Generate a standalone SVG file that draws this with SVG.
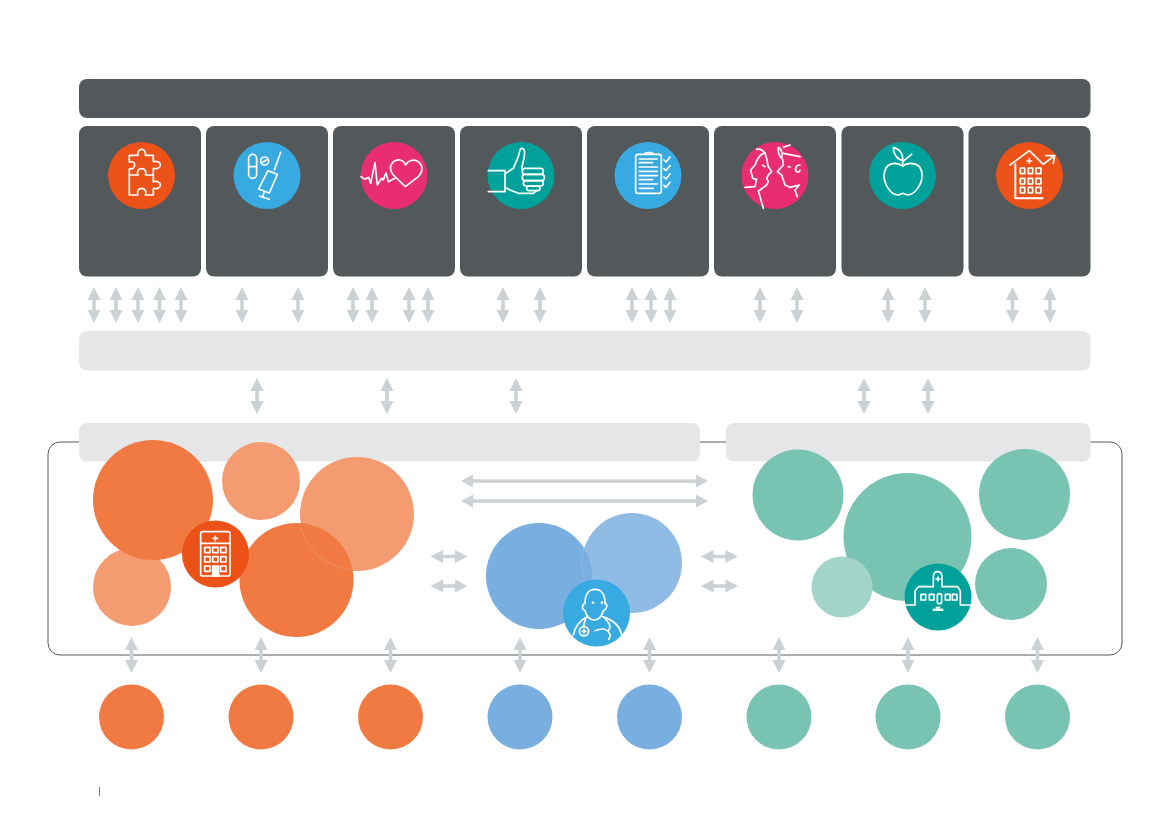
<svg xmlns="http://www.w3.org/2000/svg" width="1169" height="827" viewBox="0 0 1169 827">
<style>
.dark{fill:#53585a}
.band{fill:#e5e6e8}
.arrow{fill:#ccd1d5}
.o{fill:#f17a43}
.ol{fill:#f49b72}
.b{fill:#79aee0}
.bl{fill:#8fbbe5}
.g{fill:#78c3b2}
.gl{fill:#a3d4c8}
.co{fill:#ec5118}
.cb{fill:#38aae2}
.cp{fill:#e82d70}
.ct{fill:#00a19a}
.i{fill:none;stroke:#fff;stroke-width:5;stroke-linejoin:round;stroke-linecap:round}
.f{fill:#fff}
.seam{fill:none;stroke-width:1}
</style>
<defs>
<path id="v" d="M0-18L6.500-5H1.800V5H6.500L0 18L-6.500 5H-1.800V-5H-6.500Z"/>
<path id="h" d="M-18.500 0L-6-6.500V-1.800H6V-6.500L18.500 0L6 6.500V1.800H-6V6.500Z"/>
</defs>
<rect width="1169" height="827" fill="#fff"/>
<rect id="frame" x="48" y="442" width="1074" height="213" rx="12" fill="none" stroke="#55595c" stroke-width="1"/>
<g id="top-bar"><rect class="dark" x="79" y="79" width="1011.500" height="39" rx="8"/></g>
<g id="band-mid"><rect class="band" x="79" y="331" width="1011.500" height="39.500" rx="8"/></g>
<g id="band-left"><rect class="band" x="79" y="423" width="621" height="38.500" rx="8"/></g>
<g id="band-right"><rect class="band" x="726" y="423" width="364.500" height="38.500" rx="8"/></g>

<g id="connectors" class="arrow">
<use href="#v" x="94" y="305"/><use href="#v" x="116" y="305"/><use href="#v" x="138" y="305"/><use href="#v" x="159.500" y="305"/><use href="#v" x="181" y="305"/>
<use href="#v" x="242" y="305"/><use href="#v" x="298" y="305"/>
<use href="#v" x="353" y="305"/><use href="#v" x="372" y="305"/><use href="#v" x="409" y="305"/><use href="#v" x="428" y="305"/>
<use href="#v" x="503" y="305"/><use href="#v" x="540" y="305"/>
<use href="#v" x="632" y="305"/><use href="#v" x="651" y="305"/><use href="#v" x="670" y="305"/>
<use href="#v" x="760" y="305"/><use href="#v" x="797" y="305"/>
<use href="#v" x="888" y="305"/><use href="#v" x="925" y="305"/>
<use href="#v" x="1012.500" y="305"/><use href="#v" x="1050" y="305"/>
<use href="#v" x="257" y="396"/><use href="#v" x="387" y="396"/><use href="#v" x="516" y="396"/><use href="#v" x="864" y="396"/><use href="#v" x="928" y="396"/>
<use href="#v" x="131.500" y="655"/><use href="#v" x="261" y="655"/><use href="#v" x="390.500" y="655"/><use href="#v" x="520" y="655"/><use href="#v" x="649.500" y="655"/><use href="#v" x="779" y="655"/><use href="#v" x="908" y="655"/><use href="#v" x="1037.500" y="655"/>
<use href="#h" x="449" y="556.500"/><use href="#h" x="449" y="586"/><use href="#h" x="719.500" y="556.500"/><use href="#h" x="719.500" y="586"/>
<path d="M461 481L473 474.500V479.200H696V474.500L708 481L696 487.500V482.800H473V487.500Z"/>
<path d="M461 501L473 494.500V499.200H696V494.500L708 501L696 507.500V502.800H473V507.500Z"/>
</g>

<g id="card-1"><rect class="dark" x="79" y="126" width="122" height="150.500" rx="8"/><circle class="co" cx="141.500" cy="175.500" r="33.500"/>
<g class="i" transform="translate(80 120) scale(.3333)"><path d="M148 106H174C172 96 176 88 185 88C194 88 198 96 196 106H220V125C230 122 241 126 241 135C241 144 230 148 220 145V165H196C200 155 196 146 185 146C174 146 170 155 174 165H148V146C158 148 164 144 164 135C164 126 158 124 148 126Z"/><path d="M148 165V225H174C170 214 174 205 185 205C196 205 200 214 196 225H220V205C230 208 241 204 241 195C241 186 230 182 220 185V165"/></g></g>

<g id="card-2"><rect class="dark" x="206" y="126" width="122" height="150.500" rx="8"/><circle class="cb" cx="267" cy="175.500" r="33.500"/>
<g class="i" transform="translate(80 120) scale(.3333)"><rect x="506" y="103" width="24" height="72" rx="12"/><path d="M506 140H530"/><circle cx="554" cy="123" r="12"/><path d="M547 127L561 119"/><path d="M602 97L583 150M564 152L592 163L568 219L536 207ZM553 214L548 232M538 228L568 238"/></g></g>

<g id="card-3"><rect class="dark" x="333" y="126" width="122" height="150.500" rx="8"/><circle class="cp" cx="394" cy="175.500" r="33.500"/>
<g class="i" transform="translate(80 120) scale(.3333)"><path d="M843 170L855 178L866 172L872 190L885 128L892 195L905 175L910 180L918 158L925 185L945 175"/><path d="M976 200L940 165C920 140 940 118 960 120C970 122 975 130 977 135C985 120 1000 118 1010 122C1030 132 1030 155 1015 170Z"/></g></g>

<g id="card-4"><rect class="dark" x="460" y="126" width="122" height="150.500" rx="8"/><circle class="ct" cx="521" cy="175.500" r="33.500"/>
<g class="i" transform="translate(485 140) scale(.3333)"><path d="M10 92H60V155H10"/><path d="M62 100L85 85L100 50L105 30C108 22 116 24 118 32C122 50 112 70 110 85"/><rect x="112" y="85" width="63" height="18" rx="8"/><rect x="112" y="103" width="66" height="19" rx="8"/><rect x="115" y="122" width="60" height="16" rx="8"/><rect x="125" y="138" width="40" height="14" rx="7"/><path d="M62 143L75 150L100 160H145L155 152"/></g></g>

<g id="card-5"><rect class="dark" x="587" y="126" width="122" height="150.500" rx="8"/><circle class="cb" cx="648" cy="175.500" r="33.500"/>
<g class="i" transform="translate(460 120) scale(.3333)"><rect x="527" y="103" width="77" height="117" rx="7"/><path d="M553 103C553 96 580 96 580 103"/><path d="M538 117H592M538 128H578M538 141H592M538 154H592M538 167H592M538 179H578M538 192H592M538 205H580"/><path d="M612 120L618 126L630 111M612 146L618 152L630 137M612 171L618 177L630 162M612 196L618 202L630 187"/></g></g>

<g id="card-6"><rect class="dark" x="714" y="126" width="122" height="150.500" rx="8"/><circle class="cp" cx="775" cy="175.500" r="33.500"/>
<g class="i" transform="translate(740 140) scale(.3333)"><path d="M50 28C65 25 75 35 80 55L84 78L95 95L85 105L80 115L85 125L80 135L60 150L55 152L70 205"/><path d="M75 38C60 42 50 60 45 75L32 90L38 115L50 118L45 140L15 142"/><path d="M68 76L75 80"/><path d="M115 22C112 32 118 50 125 55C128 40 125 28 115 22ZM130 22L150 15M130 40L180 50"/><path d="M128 58L130 75L112 95L125 105L130 120L135 135L150 142L178 135L165 150L172 170"/><path d="M180 75C165 75 163 92 172 96C176 97 180 94 180 90"/><path d="M145 80L150 81"/></g></g>

<g id="card-7"><rect class="dark" x="841.500" y="126" width="122" height="150.500" rx="8"/><circle class="ct" cx="902.500" cy="175.500" r="33.500"/>
<g class="i" transform="translate(830 120) scale(.3333)"><path d="M218 138C200 125 165 125 162 165C162 190 180 225 205 225L218 220L232 225C255 225 278 190 276 165C276 125 235 125 218 138Z"/><path d="M218 138V125L245 103"/><path d="M190 83C215 88 220 110 218 122C200 118 190 100 190 83Z"/></g></g>

<g id="card-8"><rect class="dark" x="968.500" y="126" width="122" height="150.500" rx="8"/><circle class="co" cx="1029.500" cy="175.500" r="33.500"/>
<g class="i" transform="translate(830 120) scale(.3333)"><path d="M540 135L598 92L640 133L672 108M648 107H674L670 130"/><path d="M598 116V130M591 123H605"/><path d="M556 132V235H638" stroke-width="6"/><rect x="571" y="144" width="13" height="17"/><rect x="595" y="144" width="13" height="17"/><rect x="618" y="144" width="15" height="17"/><rect x="571" y="175" width="13" height="17"/><rect x="595" y="175" width="13" height="17"/><rect x="618" y="175" width="15" height="17"/><rect x="571" y="202" width="13" height="17"/><rect x="595" y="202" width="13" height="17"/><rect x="618" y="202" width="15" height="17"/></g></g>

<g id="cluster-orange">
<circle class="ol" cx="132" cy="587" r="39"/>
<circle class="ol" cx="261" cy="481" r="39"/>
<circle class="ol" cx="357" cy="514" r="57"/>
<circle class="o" cx="153" cy="500" r="60"/>
<circle class="o" cx="296.500" cy="580" r="57"/>
<path class="seam" stroke="#ea9068" d="M300 523A57 57 0 0 0 352 570"/>
</g>
<g id="icon-hospital"><circle class="co" cx="215.500" cy="554" r="33.500"/>
<g class="i" transform="translate(170 510) scale(.3333)"><rect x="92" y="65" width="88" height="133" rx="6"/><path d="M92 100H180M136 78V92M129 85H143"/><rect x="104" y="112" width="16" height="16"/><rect x="128" y="112" width="16" height="16"/><rect x="152" y="112" width="16" height="16"/><rect x="104" y="140" width="16" height="16"/><rect x="128" y="140" width="16" height="16"/><rect x="152" y="140" width="16" height="16"/><rect x="104" y="168" width="16" height="16"/><rect x="152" y="168" width="16" height="16"/><rect class="f" x="128" y="168" width="18" height="30"/></g></g>

<g id="cluster-blue">
<circle class="bl" cx="632" cy="563" r="50"/>
<circle class="b" cx="539" cy="576" r="53"/>
<path class="seam" stroke="#8db8e2" d="M584 548A50 50 0 0 0 590 590"/>
</g>
<g id="icon-doctor"><circle class="cb" cx="596.500" cy="613" r="33.500"/>
<g class="i" transform="translate(550 570) scale(.3333)"><path d="M105 100C105 75 115 58 135 58C155 58 165 75 165 100C175 105 170 118 160 122C155 140 145 150 133 150C120 150 110 140 105 122C95 118 95 105 105 100Z"/><path d="M70 195C75 170 90 150 112 140M158 140C190 150 210 170 215 195"/><circle cx="102" cy="184" r="14"/><path d="M102 178V190M96 184H108M100 170L107 145"/><path d="M135 182C150 176 165 176 172 182C182 190 182 200 176 208M165 145C178 160 185 170 175 182"/><circle class="f" cx="129" cy="98" r="1.500"/><circle class="f" cx="156" cy="98" r="1.500"/></g></g>

<g id="cluster-green">
<circle class="g" cx="798" cy="495" r="45.500"/>
<circle class="g" cx="907.500" cy="537" r="64"/>
<circle class="g" cx="1024.500" cy="494.500" r="45.500"/>
<circle class="g" cx="1011" cy="584" r="36"/>
<circle class="gl" cx="842" cy="587" r="30.500"/>
</g>
<g id="icon-school"><circle class="ct" cx="938" cy="597" r="33.500"/>
<g class="i" transform="translate(895 555) scale(.3333)"><path d="M32 150H60V108L70 95H115V65C116 45 140 45 141 65V95H188L196 108V150H225"/><path d="M129 66V78M123 72H135"/><rect x="78" y="118" width="14" height="17"/><rect x="103" y="118" width="14" height="17"/><rect x="151" y="118" width="14" height="17"/><rect x="172" y="118" width="14" height="17"/><rect x="127" y="116" width="13" height="30" rx="6"/><rect class="f" x="122" y="155" width="14" height="6" stroke="none"/><rect class="f" x="113" y="161" width="32" height="7" stroke="none"/></g></g>

<g id="node-1"><circle class="o" cx="131.500" cy="717" r="32.500"/></g>
<g id="node-2"><circle class="o" cx="261" cy="717" r="32.500"/></g>
<g id="node-3"><circle class="o" cx="390.500" cy="717" r="32.500"/></g>
<g id="node-4"><circle class="b" cx="520" cy="717" r="32.500"/></g>
<g id="node-5"><circle class="b" cx="649.500" cy="717" r="32.500"/></g>
<g id="node-6"><circle class="g" cx="779" cy="717" r="32.500"/></g>
<g id="node-7"><circle class="g" cx="908" cy="717" r="32.500"/></g>
<g id="node-8"><circle class="g" cx="1037.500" cy="717" r="32.500"/></g>
<rect id="tick" x="99" y="787" width="1" height="9" fill="#1c9c94"/>
</svg>
